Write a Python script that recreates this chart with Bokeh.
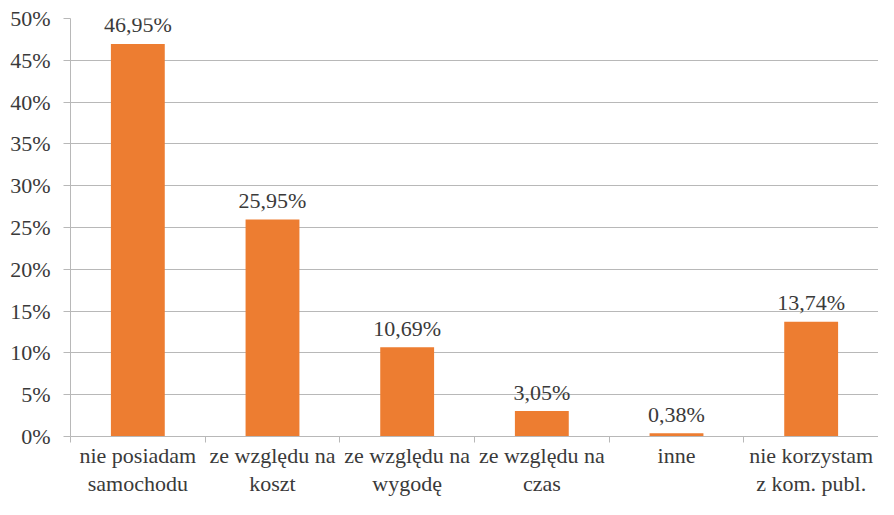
from bokeh.plotting import figure
from bokeh.models import Range1d, FixedTicker, PrintfTickFormatter, ColumnDataSource
from bokeh.core.properties import value
from bokeh.embed import file_html
from bokeh.resources import INLINE

categories = ["nie posiadam\nsamochodu", "ze względu na\nkoszt", "ze względu na\nwygodę",
              "ze względu na\nczas", "inne", "nie korzystam\nz kom. publ."]
values = [46.95, 25.95, 10.69, 3.05, 0.38, 13.74]
y_ticks = [0, 5, 10, 15, 20, 25, 30, 35, 40, 45, 50]

FONT = "Liberation Serif"
TXT = "#3A3A3A"
GRID = "#B8B8B8"
ORANGE = "#ED7D31"

n = len(categories)
xs = [i + 0.5 for i in range(n)]
labels = [f"{v:.2f}".replace(".", ",") + "%" for v in values]
src = ColumnDataSource(dict(x=xs, top=values, label=labels))

p = figure(width=878, height=499, output_backend="svg", toolbar_location=None,
           x_range=Range1d(0, n), y_range=Range1d(0, 50),
           min_border_left=70, min_border_right=0, min_border_top=18, min_border_bottom=50)
p.outline_line_color = None
p.background_fill_color = "white"
p.border_fill_color = "white"

p.vbar(x="x", top="top", width=0.4, bottom=0, source=src, fill_color=ORANGE, line_color=None)
p.text(x="x", y="top", text="label", source=src, text_align="center", text_baseline="alphabetic",
       y_offset=-19, text_font=value(FONT), text_font_size="22px", text_color=TXT)

# y axis
yax = p.yaxis[0]
yax.ticker = FixedTicker(ticks=y_ticks, minor_ticks=[])
yax.formatter = PrintfTickFormatter(format="%d%%")
yax.axis_line_color = GRID
yax.major_tick_line_color = GRID
yax.major_tick_out = 7
yax.major_tick_in = 0
yax.minor_tick_line_color = None
yax.major_label_standoff = 13
yax.major_label_text_font = FONT
yax.major_label_text_font_size = "22px"
yax.major_label_text_color = TXT

# x axis
xax = p.xaxis[0]
xax.ticker = FixedTicker(ticks=xs, minor_ticks=list(range(n + 1)))
xax.major_label_overrides = {x: c for x, c in zip(xs, categories)}
xax.axis_line_color = GRID
xax.major_tick_line_color = None
xax.major_tick_out = 0
xax.major_tick_in = 0
xax.minor_tick_line_color = GRID
xax.minor_tick_out = 6
xax.minor_tick_in = 0
xax.major_label_standoff = 0
xax.major_label_text_font = FONT
xax.major_label_text_font_size = "22px"
xax.major_label_text_line_height = 1.15
xax.major_label_text_color = TXT

p.xgrid.grid_line_color = None
p.ygrid.grid_line_color = GRID
p.ygrid.ticker = FixedTicker(ticks=y_ticks)

open("out.html", "w").write(file_html(p, INLINE))
